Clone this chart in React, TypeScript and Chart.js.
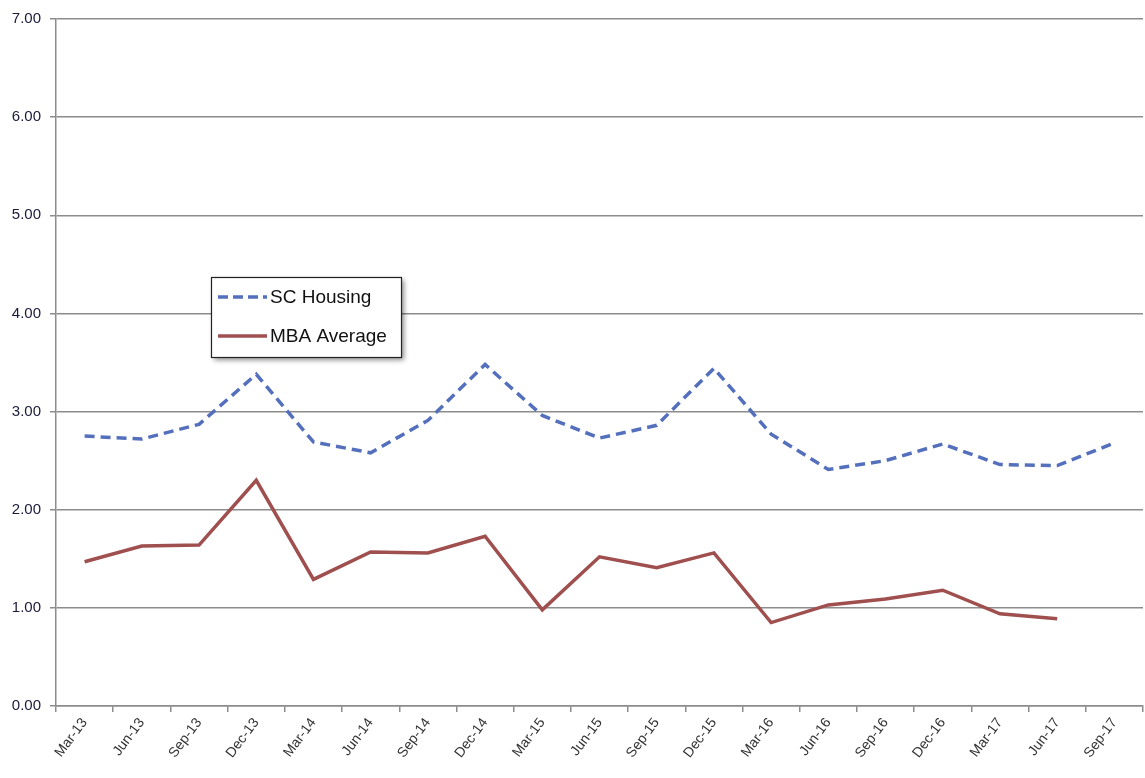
import React, { useEffect, useRef } from "react";
import { Chart, registerables } from "chart.js";

Chart.register(...registerables);

const categories = [
  "Mar-13", "Jun-13", "Sep-13", "Dec-13",
  "Mar-14", "Jun-14", "Sep-14", "Dec-14",
  "Mar-15", "Jun-15", "Sep-15", "Dec-15",
  "Mar-16", "Jun-16", "Sep-16", "Dec-16",
  "Mar-17", "Jun-17", "Sep-17",
];

const scHousing = [
  2.75, 2.72, 2.87, 3.38,
  2.69, 2.58, 2.91, 3.48,
  2.96, 2.73, 2.86, 3.44,
  2.77, 2.41, 2.50, 2.67,
  2.46, 2.45, 2.68,
];

const mbaAverage = [
  1.47, 1.63, 1.64, 2.30,
  1.29, 1.57, 1.56, 1.73,
  0.98, 1.52, 1.41, 1.56,
  0.85, 1.03, 1.09, 1.18,
  0.94, 0.89, null,
];

const seriesNames = ["SC Housing", "MBA Average"];
const seriesColors = ["#5470BC", "#A04F4F"];

const FONT = "'Liberation Sans', Arial, sans-serif";

const legendBoxPlugin = {
  id: "legendBox",
  afterDraw(chart: any) {
    const ctx = chart.ctx;
    const x = 211, y = 277, w = 190, h = 80;
    ctx.save();
    ctx.shadowColor = "rgba(0,0,0,0.45)";
    ctx.shadowBlur = 5;
    ctx.shadowOffsetX = 3;
    ctx.shadowOffsetY = 3;
    ctx.fillStyle = "#ffffff";
    ctx.fillRect(x, y, w, h);
    ctx.restore();
    ctx.save();
    ctx.strokeStyle = "#222222";
    ctx.lineWidth = 1.2;
    ctx.strokeRect(x + 0.5, y + 0.5, w, h);
    ctx.font = `19px ${FONT}`;
    ctx.textBaseline = "middle";
    const rows = [y + 20, y + 59];
    seriesNames.forEach((name, i) => {
      ctx.beginPath();
      ctx.strokeStyle = seriesColors[i];
      ctx.lineWidth = 3.5;
      ctx.setLineDash(i === 0 ? [10, 5] : []);
      ctx.moveTo(x + 7, rows[i]);
      ctx.lineTo(x + 56, rows[i]);
      ctx.stroke();
      ctx.setLineDash([]);
      ctx.fillStyle = "#111111";
      ctx.fillText(name, x + 59, rows[i] + 1);
    });
    ctx.restore();
  },
};

export default function App() {
  const ref = useRef<HTMLCanvasElement | null>(null);

  useEffect(() => {
    if (!ref.current) return;
    const chart = new Chart(ref.current, {
      type: "line",
      data: {
        labels: categories,
        datasets: [
          {
            label: seriesNames[0],
            data: scHousing,
            borderColor: seriesColors[0],
            borderWidth: 3.5,
            borderDash: [10, 6],
            pointRadius: 0,
            tension: 0,
            fill: false,
          },
          {
            label: seriesNames[1],
            data: mbaAverage,
            borderColor: seriesColors[1],
            borderWidth: 3.5,
            pointRadius: 0,
            tension: 0,
            fill: false,
          },
        ],
      },
      options: {
        animation: false,
        responsive: false,
        maintainAspectRatio: false,
        layout: { padding: { top: 19, right: 2, left: 0, bottom: 0 } },
        plugins: {
          legend: { display: false },
          tooltip: { enabled: false },
          title: { display: false },
        },
        scales: {
          x: {
            offset: true,
            grid: {
              offset: true,
              drawOnChartArea: false,
              drawTicks: true,
              tickLength: 6,
              color: "#8c8c8c",
              lineWidth: 1.5,
            },
            border: { color: "#8c8c8c", width: 1.5 },
            ticks: {
              minRotation: 53,
              maxRotation: 53,
              autoSkip: false,
              color: "#333333",
              font: { family: FONT, size: 14 },
              padding: 3,
            },
            afterFit(scale: any) {
              scale.height = 72;
            },
          },
          y: {
            min: 0,
            max: 7,
            grid: {
              color: "#8c8c8c",
              lineWidth: 1.5,
              tickLength: 6,
            },
            border: { color: "#8c8c8c", width: 1.5 },
            ticks: {
              stepSize: 1,
              color: "#1a1a3a",
              font: { family: FONT, size: 15 },
              padding: 9,
              callback: (v: any) => Number(v).toFixed(2),
            },
            afterFit(scale: any) {
              scale.width = 56;
            },
          },
        },
      },
      plugins: [legendBoxPlugin],
    });
    return () => chart.destroy();
  }, []);

  return (
    <div style={{ position: "fixed", left: 0, top: 0, width: 1145, height: 778, background: "#fff" }}>
      <canvas ref={ref} width={1145} height={778} style={{ display: "block" }} />
    </div>
  );
}
